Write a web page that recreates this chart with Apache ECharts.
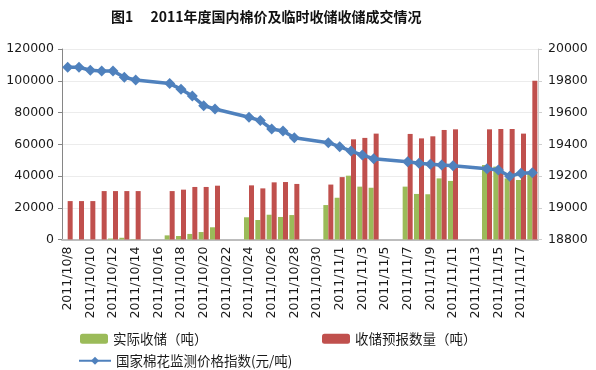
<!DOCTYPE html>
<html><head><meta charset="utf-8">
<script src="https://cdn.jsdelivr.net/npm/echarts@6/dist/echarts.min.js"></script>
<style>html,body{margin:0;padding:0;background:#fff}#c{width:596px;height:370px}</style>
</head><body><div id="c"></div>
<script>
var categories = ['2011/10/8','2011/10/9','2011/10/10','2011/10/11','2011/10/12','2011/10/13','2011/10/14','2011/10/15','2011/10/16','2011/10/17','2011/10/18','2011/10/19','2011/10/20','2011/10/21','2011/10/22','2011/10/23','2011/10/24','2011/10/25','2011/10/26','2011/10/27','2011/10/28','2011/10/29','2011/10/30','2011/10/31','2011/11/1','2011/11/2','2011/11/3','2011/11/4','2011/11/5','2011/11/6','2011/11/7','2011/11/8','2011/11/9','2011/11/10','2011/11/11','2011/11/12','2011/11/13','2011/11/14','2011/11/15','2011/11/16','2011/11/17','2011/11/18'];
var actualStorage = [0,0,0,0,600,1100,200, null,null, 2600,2200,3500,4700,7700, null,null, 14000,12300,15600,14200,15400, null,null, 21700,26300,40200,33300,32600, null,null, 33300,28700,28500,38500,36900, null,null, 46900,45900,38500,37500,41500];
var reportedStorage = [24200,24200,24200,30500,30500,30500,30500, null,null, 30500,31400,33100,33100,33900, null,null, 34100,32200,36000,36200,35000, null,null, 34600,39300,63100,64000,66700, null,null, 66500,63700,65000,69000,69400, null,null, 69400,69600,69600,66700,100000];
var priceIndex = [19885,19885,19866,19862,19862,19822,19805, null,null, 19782,19747,19704,19643,19622, null,null, 19570,19549,19496,19483,19441, null,null, 19410,19385,19357,19332,19309, null,null, 19290,19280,19274,19269,19265, null,null, 19246,19238,19198,19218,19220];
var names = ['实际收储（吨）','收储预报数量（吨）','国家棉花监测价格指数(元/吨)'];

var FONT = 'DejaVu Sans';
var chart = echarts.init(document.getElementById('c'), null, {renderer:'canvas'});
var legendText = {fontFamily:'Noto Sans CJK SC', fontSize:13.5, color:'#1a1a1a'};
var plain = function(v){ return String(v); };
chart.setOption({
  animation:false,
  backgroundColor:'#fff',
  title:{text:'图1　 2011年度国内棉价及临时收储收储成交情况', left:106, top:5,
    textStyle:{fontFamily:'Noto Sans CJK SC', fontWeight:'bold', fontSize:14, color:'#111'}},
  grid:{left:62, right:58, top:49, bottom:130.5, containLabel:false},
  legend:[
    {data:[names[0]], left:75, top:327, itemWidth:28, itemHeight:10, itemGap:0, textStyle:legendText},
    {data:[names[1]], left:317, top:327, itemWidth:28, itemHeight:10, itemGap:0, textStyle:legendText},
    {data:[names[2]], left:73, top:349, itemWidth:32, itemHeight:10, itemGap:0, textStyle:legendText}
  ],
  xAxis:{type:'category', data:categories, boundaryGap:true,
    axisLine:{lineStyle:{color:'#bdbdbd', width:2}},
    axisTick:{show:false},
    axisLabel:{rotate:90, interval:1, fontFamily:FONT, fontSize:12.5, color:'#1a1a1a', margin:7}},
  yAxis:[
    {type:'value', min:0, max:120000, interval:20000,
      axisLine:{show:true, lineStyle:{color:'#868686'}},
      axisTick:{show:true, length:4, lineStyle:{color:'#868686'}},
      splitLine:{lineStyle:{color:'#ececec'}},
      axisLabel:{fontFamily:FONT, fontSize:12.5, color:'#1a1a1a', margin:8, formatter:plain}},
    {type:'value', min:18800, max:20000, interval:200, position:'right',
      axisLine:{show:true, lineStyle:{color:'#cfcfcf'}},
      axisTick:{show:true, length:4, lineStyle:{color:'#cfcfcf'}},
      splitLine:{show:false},
      axisLabel:{fontFamily:FONT, fontSize:12.5, color:'#1a1a1a', margin:10, formatter:plain}}
  ],
  series:[
    {name:names[0], type:'bar', data:actualStorage, barWidth:5, barGap:'0%',
      itemStyle:{color:'#9bbb59'}},
    {name:names[1], type:'bar', data:reportedStorage, barWidth:5, barGap:'0%',
      itemStyle:{color:'#c0504d'}},
    {name:names[2], type:'line', yAxisIndex:1, data:priceIndex, connectNulls:true,
      symbol:'diamond', symbolSize:11, showAllSymbol:true, z:5,
      lineStyle:{color:'#4f81bd', width:3.5}, itemStyle:{color:'#4f81bd'}}
  ]
});
</script></body></html>
